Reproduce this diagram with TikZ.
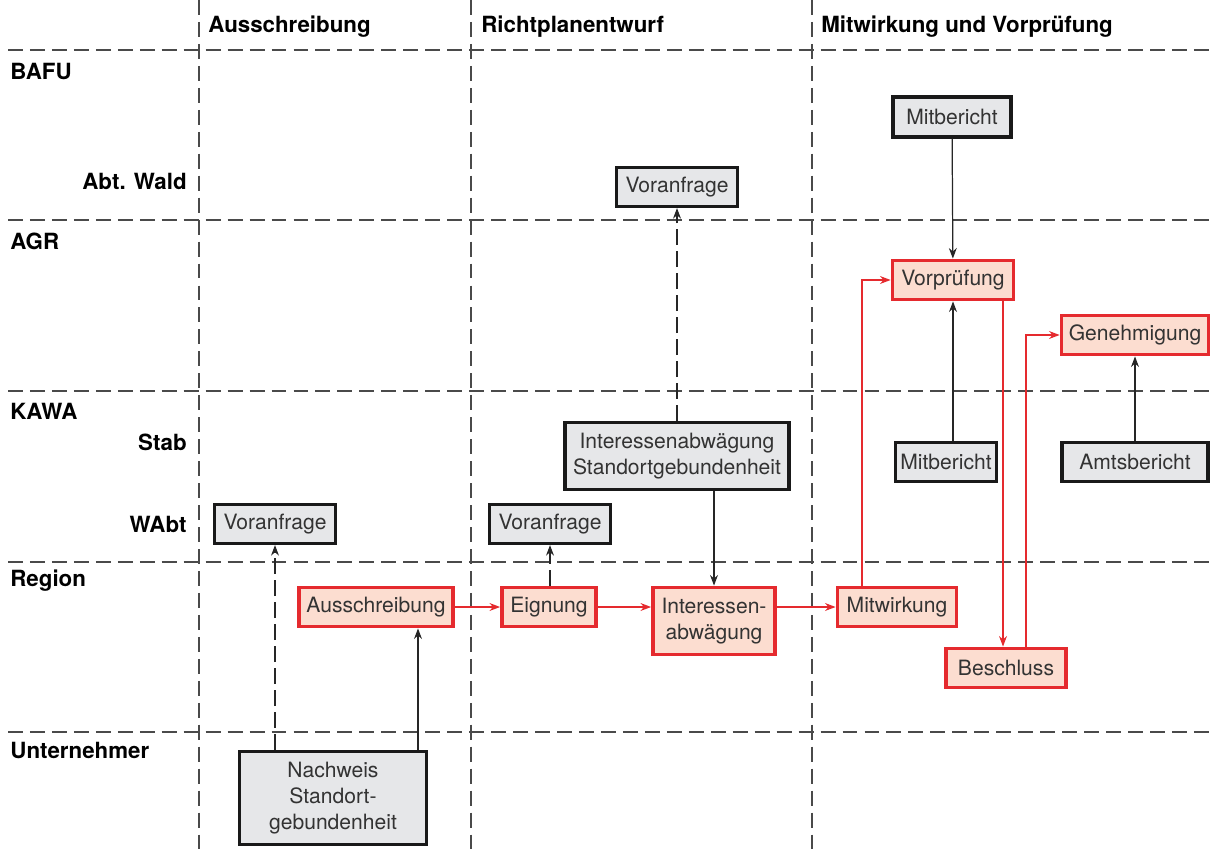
\documentclass[tikz,border=0pt]{standalone}
\usepackage{fontspec}
\setmainfont{TeX Gyre Heros}
\usetikzlibrary{arrows.meta}
\definecolor{boxred}{HTML}{E52A2E}
\definecolor{boxpeach}{HTML}{FCDDD0}
\definecolor{boxgray}{HTML}{E6E7E9}
\definecolor{textgray}{HTML}{333333}
\definecolor{gridgray}{HTML}{4A4A4A}

\begin{document}
\begin{tikzpicture}[>={Stealth[length=6pt,width=4.5pt]},x=0.02cm,y=-0.02cm,
  box/.style={line width=1.8pt,font=\fontsize{12}{14.6}\selectfont,text=textgray,
    align=center,minimum height=0.78cm,inner sep=2pt},
  graybox/.style={box,fill=boxgray,draw=black!90},
  redbox/.style={box,fill=boxpeach,draw=boxred,line width=2.2pt},
  redline/.style={boxred,line width=0.7pt},
  blackline/.style={black!85,line width=0.7pt},
  dashline/.style={black!85,line width=0.7pt,dash pattern=on 9pt off 3.5pt},
  grid/.style={gridgray,line width=0.7pt,dash pattern=on 8.5pt off 4pt},
  lanelabel/.style={font=\fontsize{12.7}{15}\selectfont\bfseries,inner sep=0pt}]
  \useasboundingbox (0,0) rectangle (1214,851);

  % swimlanes and phases
  \foreach \y in {50,220,391,562,732}
    \draw[grid] (8,\y) -- (1214,\y);
  \foreach \x in {199,471,812}
    \draw[grid] (\x,0) -- (\x,851);
  \node[lanelabel,anchor=west] (hAus) at (208,27) {Ausschreibung};
  \node[lanelabel,anchor=west] (hRicht) at (481,27) {Richtplanentwurf};
  \node[lanelabel,anchor=west] (hMit) at (821,27) {Mitwirkung und Vorprüfung};
  \node[lanelabel,anchor=west] (lBafu) at (10,72) {BAFU};
  \node[lanelabel,anchor=east] (lWald) at (187,181) {Abt. Wald};
  \node[lanelabel,anchor=west] (lAgr) at (10,241) {AGR};
  \node[lanelabel,anchor=west] (lKawa) at (10,411) {KAWA};
  \node[lanelabel,anchor=east] (lStab) at (187,442) {Stab};
  \node[lanelabel,anchor=east] (lWabt) at (187,524) {WAbt};
  \node[lanelabel,anchor=west] (lRegion) at (10,581) {Region};
  \node[lanelabel,anchor=west] (lUnt) at (10,750) {Unternehmer};

  % boxes
  \node[graybox,minimum width=2.36cm,minimum height=0.8cm] (mitberichtB) at (952,117) {Mitbericht};
  \node[graybox,minimum width=2.42cm] (voranfrageW) at (677,187) {Voranfrage};
  \node[redbox,minimum width=2.42cm] (vorpruefung) at (953,280) {Vorprüfung};
  \node[redbox,minimum width=2.94cm] (genehmigung) at (1135,335) {Genehmigung};
  \node[graybox,minimum width=4.48cm,minimum height=1.34cm] (abwStandort) at (677,456) {Interessenabwägung\\Standortgebundenheit};
  \node[graybox,minimum width=2.02cm] (mitberichtS) at (946,462) {Mitbericht};
  \node[graybox,minimum width=2.92cm] (amtsbericht) at (1135,462) {Amtsbericht};
  \node[graybox,minimum width=2.42cm] (voranfrageA) at (275,524) {Voranfrage};
  \node[graybox,minimum width=2.42cm] (voranfrageR) at (550,524) {Voranfrage};
  \node[redbox,minimum width=3.08cm] (ausschreibung) at (376,607) {Ausschreibung};
  \node[redbox,minimum width=1.88cm] (eignung) at (549,607) {Eignung};
  \node[redbox,minimum width=2.44cm,minimum height=1.34cm] (abwaegung) at (714,621) {Interessen-\\abwägung};
  \node[redbox,minimum width=2.38cm] (mitwirkung) at (897,607) {Mitwirkung};
  \node[redbox,minimum width=2.4cm] (beschluss) at (1006,668) {Beschluss};
  \node[graybox,minimum width=3.74cm,minimum height=1.86cm] (nachweis) at (333,798) {Nachweis\\Standort-\\gebundenheit};

  % main path (red)
  \draw[redline,->] (ausschreibung) -- (eignung);
  \draw[redline,->] (eignung) -- (eignung -| abwaegung.west);
  \draw[redline,->] (abwaegung.east |- mitwirkung) -- (mitwirkung);
  \draw[redline,->] (mitwirkung.north -| 862,0) |- (vorpruefung.west);
  \draw[redline,->] (vorpruefung.south -| 1003,0) -- (beschluss.north -| 1003,0);
  \draw[redline,->] (beschluss.north -| 1026,0) |- (genehmigung.west);

  % inputs
  \draw[blackline,->] (nachweis.north -| 418,0) -- (ausschreibung.south -| 418,0);
  \draw[blackline,->] (abwStandort.south -| abwaegung.north) -- (abwaegung.north);
  \draw[blackline,->] (mitberichtB) -- (vorpruefung);
  \draw[blackline,->] (mitberichtS.north -| vorpruefung.south) -- (vorpruefung.south);
  \draw[blackline,->] (amtsbericht) -- (genehmigung);

  % requests
  \draw[dashline,->] (nachweis.north -| voranfrageA.south) -- (voranfrageA.south);
  \draw[dashline,->] (eignung.north -| voranfrageR.south) -- (voranfrageR.south);
  \draw[dashline,->] (abwStandort) -- (voranfrageW);
\end{tikzpicture}
\end{document}
